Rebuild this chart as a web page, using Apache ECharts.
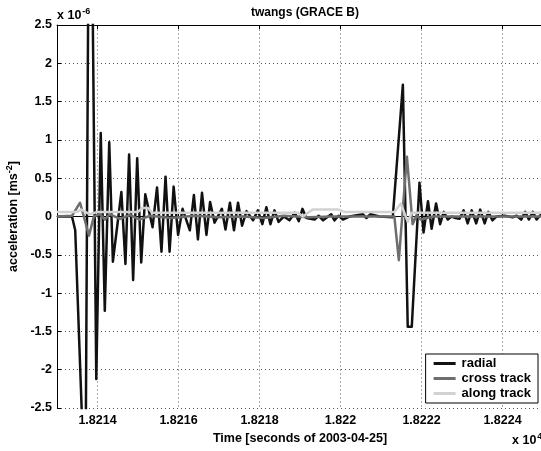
<!DOCTYPE html>
<html>
<head>
<meta charset="utf-8">
<script src="https://cdn.jsdelivr.net/npm/echarts@6/dist/echarts.min.js"></script>
<style>
  html, body { margin: 0; padding: 0; background: #fff; }
  #main { width: 541px; height: 451px; }
</style>
</head>
<body>
<div id="main"></div>
<script>
// time in seconds of 2003-04-25, acceleration in 1e-6 m/s^2
var radialT = [18213.00, 18213.37, 18213.45, 18213.70, 18213.81, 18213.97, 18214.08, 18214.18, 18214.29, 18214.38,
  18214.59, 18214.69, 18214.78, 18214.88, 18214.98, 18215.08, 18215.18, 18215.36, 18215.47, 18215.58,
  18215.68, 18215.78, 18215.88, 18215.99, 18216.10, 18216.28, 18216.38, 18216.48, 18216.58, 18216.69,
  18216.78, 18216.89, 18217.07, 18217.16, 18217.27, 18217.37, 18217.47, 18217.57, 18217.68, 18217.84,
  18217.96, 18218.07, 18218.17, 18218.27, 18218.37, 18218.47, 18218.60, 18218.74, 18218.87, 18218.97,
  18219.06, 18219.16, 18219.36, 18219.46, 18219.57, 18219.77, 18219.85, 18219.95, 18220.06, 18220.22,
  18220.55, 18220.64, 18220.74, 18220.96, 18221.29, 18221.33, 18221.54, 18221.66, 18221.76, 18221.95,
  18222.05, 18222.16, 18222.25, 18222.36, 18222.46, 18222.55, 18222.65, 18222.74, 18222.84, 18222.94,
  18223.04, 18223.14, 18223.24, 18223.35, 18223.45, 18223.56, 18223.65, 18223.75, 18223.85, 18224.05,
  18224.25, 18224.35, 18224.46, 18224.56, 18224.65, 18224.75, 18224.84, 18224.94, 18225.00];
var radialV = [0.00, 0.00, -0.18, -3.85, 6.60, -2.12, 1.09, -1.23, 0.97, -0.59,
  0.32, -0.62, 0.81, -0.83, 0.76, -0.60, 0.29, -0.14, 0.38, -0.46,
  0.52, -0.46, 0.39, -0.24, 0.10, -0.18, 0.28, -0.30, 0.31, -0.24,
  0.19, -0.08, 0.10, -0.17, 0.18, -0.18, 0.18, -0.12, 0.07, -0.05,
  0.08, -0.10, 0.12, -0.10, 0.08, -0.07, 0.00, -0.05, 0.05, -0.06,
  0.10, -0.02, -0.04, 0.01, -0.05, 0.03, -0.05, 0.01, -0.04, 0.00,
  0.03, -0.02, 0.03, 0.00, -0.01, 0.00, 1.72, -1.44, -1.44, 0.44,
  -0.21, 0.20, -0.16, 0.17, -0.10, 0.06, -0.04, 0.00, -0.02, -0.03,
  0.08, -0.09, 0.08, -0.09, 0.09, -0.09, 0.06, -0.05, 0.00, 0.01,
  -0.01, 0.01, -0.04, 0.06, -0.04, 0.06, -0.04, 0.02, 0.00];

var crossT = [18213.00, 18213.37, 18213.57, 18213.79, 18213.91, 18214.06, 18214.18, 18214.30, 18214.55, 18214.80,
  18215.04, 18215.30, 18215.80, 18216.40, 18217.00, 18217.60, 18218.10, 18218.60, 18219.20, 18219.80,
  18220.50, 18221.33, 18221.44, 18221.64, 18221.78, 18221.88, 18221.98, 18222.30, 18223.00, 18224.00, 18225.00];
var crossV = [0.00, 0.01, 0.18, -0.25, 0.00, 0.03, -0.04, 0.03, -0.03, 0.02,
  -0.04, 0.01, -0.02, 0.01, -0.01, 0.00, -0.02, 0.01, -0.01, 0.00,
  0.00, 0.00, -0.57, 0.78, -0.10, 0.02, -0.04, 0.00, 0.00, 0.00, 0.00];

var alongT = [18213.00, 18213.50, 18213.60, 18213.80, 18214.00, 18215.00, 18215.10, 18215.25, 18215.35, 18216.50,
  18218.95, 18219.07, 18219.31, 18219.95, 18220.10, 18221.33, 18221.49, 18221.66, 18221.76, 18223.00, 18225.00];
var alongV = [0.06, 0.06, 0.09, 0.03, 0.06, 0.06, 0.11, 0.11, 0.05, 0.05,
  0.05, 0.00, 0.09, 0.09, 0.06, 0.06, 0.17, -0.07, 0.05, 0.05, 0.05];

var seriesNames = ['radial', 'cross track', 'along track'];
var seriesColors = ['#111111', '#6e6e6e', '#d2d2d2'];

function pairs(t, v) {
  return t.map(function (x, i) { return [x, v[i]]; });
}

var myChart = echarts.init(document.getElementById('main'));
var font = 'Liberation Sans, Arial, sans-serif';

var option = {
  animation: false,
  backgroundColor: '#fff',
  title: {
    text: 'twangs (GRACE B)',
    left: 300, top: 2, textAlign: 'center',
    textStyle: { fontFamily: font, fontSize: 12, fontWeight: 'bold', color: '#000' }
  },
  grid: { left: 57, right: -2, top: 25, bottom: 43, containLabel: false, outerBoundsMode: 'none' },
  legend: {
    orient: 'vertical',
    right: 3, bottom: 48,
    data: seriesNames.map(function (n) { return { name: n, icon: 'rect' }; }),
    itemWidth: 22, itemHeight: 3, itemGap: 2,
    padding: [3, 7, 3, 8],
    backgroundColor: '#fff', borderColor: '#000', borderWidth: 1,
    textStyle: { fontFamily: font, fontSize: 13, fontWeight: 'bold', color: '#000', padding: [0, 0, 0, 1] }
  },
  xAxis: [{
    type: 'value', min: 18213, max: 18225, splitNumber: 6,
    name: 'Time [seconds of 2003-04-25]', nameLocation: 'middle', nameGap: 22,
    nameTextStyle: { fontFamily: font, fontSize: 12.5, fontWeight: 'bold', color: '#000' },
    axisLine: { lineStyle: { color: '#000', width: 1 } },
    axisTick: { inside: true, length: 4, lineStyle: { color: '#000' } },
    axisLabel: {
      margin: 6, fontFamily: font, fontSize: 12.5, fontWeight: 'bold', color: '#000',
      formatter: function (v) { return Math.abs(v % 2) < 1e-6 ? String(v / 10000) : ''; }
    },
    splitLine: { show: true, lineStyle: { color: '#aaa', type: [2, 2], width: 1 } }
  }, {
    type: 'value', min: 18213, max: 18225, splitNumber: 6, position: 'top',
    axisLine: { lineStyle: { color: '#000', width: 1 } },
    axisTick: { inside: true, length: 4, lineStyle: { color: '#000' } },
    axisLabel: { show: false }, splitLine: { show: false }
  }],
  yAxis: {
    type: 'value', min: -2.5, max: 2.5, interval: 0.5,
    name: 'acceleration [ms{sup|-2}]', nameLocation: 'middle', nameGap: 35, nameRotate: 90,
    nameTextStyle: {
      fontFamily: font, fontSize: 12.5, fontWeight: 'bold', color: '#000',
      rich: { sup: { fontFamily: font, fontSize: 9, fontWeight: 'bold', verticalAlign: 'top', padding: [0, 0, 8, 0] } }
    },
    axisLine: { show: true, lineStyle: { color: '#000', width: 1 } },
    axisTick: { show: true, inside: true, length: 4, lineStyle: { color: '#000' } },
    axisLabel: { margin: 5, fontFamily: font, fontSize: 12.5, fontWeight: 'bold', color: '#000' },
    splitLine: { show: true, lineStyle: { color: '#555', type: [1, 3], width: 1 } }
  },
  graphic: [
    {
      type: 'text', left: 57, top: 7,
      style: {
        text: 'x 10{sup|-6}', fill: '#000', font: 'bold 12.5px ' + font,
        rich: { sup: { fontSize: 9, fontWeight: 'bold', fontFamily: font, padding: [0, 0, 9, 1] } }
      }
    },
    {
      type: 'text', left: 512, top: 432,
      style: {
        text: 'x 10{sup|4}', fill: '#000', font: 'bold 12.5px ' + font,
        rich: { sup: { fontSize: 9, fontWeight: 'bold', fontFamily: font, padding: [0, 0, 9, 1] } }
      }
    }
  ],
  series: [
    { name: 'radial', data: pairs(radialT, radialV) },
    { name: 'cross track', data: pairs(crossT, crossV) },
    { name: 'along track', data: pairs(alongT, alongV) }
  ].map(function (s, i) {
    return {
      name: s.name, type: 'line', data: s.data, showSymbol: false, clip: true,
      color: seriesColors[i],
      lineStyle: { color: seriesColors[i], width: 2.5, join: 'round' }
    };
  })
};

myChart.setOption(option);
</script>
</body>
</html>
